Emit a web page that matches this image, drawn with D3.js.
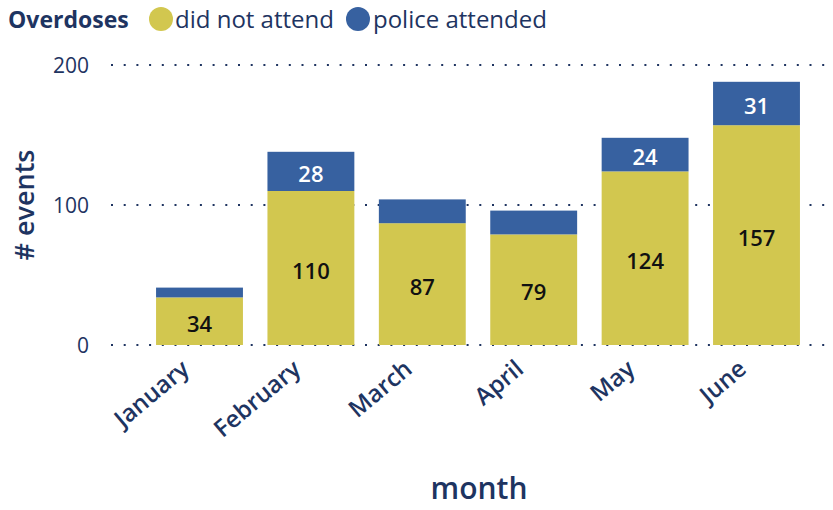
<!DOCTYPE html>
<html><head><meta charset="utf-8">
<script src="https://cdn.jsdelivr.net/npm/d3@7"></script>
<style>
html,body{margin:0;padding:0;background:#fff;}
svg{display:block;font-family:"Open Sans","Noto Sans",sans-serif;}
</style></head>
<body>
<svg id="chart" width="833" height="510"></svg>
<script>
const months = ["January","February","March","April","May","June"];
const didNotAttend = [34,110,87,79,124,157];
const policeAttended = [7,28,17,17,24,31];
const yTicks = [0,100,200];
const seriesNames = ["did not attend","police attended"];
const legendTitle = "Overdoses";
const xTitle = "month";
const yTitle = "# events";

const colors = {"did not attend":"#d2c74f","police attended":"#3761a0"};
const navy = "#1e3461";

const svg = d3.select("#chart");

const x = d3.scaleBand().domain(months).range([143.8,812.2]).paddingInner(0.22).paddingOuter(0.11);
const y = d3.scaleLinear().domain([0,200]).range([345,65]);

// gridlines
const grid = svg.append("g");
grid.selectAll("line").data(yTicks).join("line")
  .attr("x1",111).attr("x2",833)
  .attr("y1",d=>y(d)).attr("y2",d=>y(d))
  .attr("stroke",navy).attr("stroke-width",2)
  .attr("stroke-dasharray","2 10.7");

// y axis labels
const yAxis = d3.axisLeft(y).tickValues(yTicks).tickSize(0).tickPadding(0);
const gy = svg.append("g").attr("transform","translate(89,0)").call(yAxis);
gy.select(".domain").remove();
gy.selectAll("text").attr("fill",navy).style("font-size","21px").style("font-family","'Open Sans',sans-serif").attr("dy","0.35em");

// stacked data
const rows = months.map((m,i)=>({month:m,"did not attend":didNotAttend[i],"police attended":policeAttended[i]}));
const stack = d3.stack().keys(seriesNames)(rows);

const layers = svg.append("g").selectAll("g").data(stack).join("g")
  .attr("fill",d=>colors[d.key]);
layers.selectAll("rect").data(d=>d).join("rect")
  .attr("x",d=>x(d.data.month))
  .attr("width",x.bandwidth())
  .attr("y",d=>y(d[1]))
  .attr("height",d=>y(d[0])-y(d[1]));

// value labels
stack.forEach(layer=>{
  svg.append("g").selectAll("text").data(layer.filter(d=>y(d[0])-y(d[1])>30)).join("text")
    .attr("x",d=>x(d.data.month)+x.bandwidth()/2)
    .attr("y",d=>(y(d[0])+y(d[1]))/2)
    .attr("dy","0.48em")
    .attr("text-anchor","middle")
    .attr("fill",layer.key==="did not attend"?"#111":"#fff")
    .style("font-size","22px").style("font-weight","600")
    .text(d=>d[1]-d[0]);
});

// x axis labels
const xAxis = d3.axisBottom(x).tickSize(0).tickPadding(0);
const gx = svg.append("g").attr("transform","translate(0,365)").call(xAxis);
gx.select(".domain").remove();
gx.selectAll("text")
  .attr("fill",navy).style("font-size","24px").style("font-weight","600")
  .style("font-family","'Open Sans',sans-serif")
  .attr("text-anchor","end").attr("dy","0.35em").attr("y",0)
  .attr("transform","translate(-14,0) rotate(-40)");

// axis titles
svg.append("text").attr("x",479).attr("y",499).attr("text-anchor","middle")
  .attr("fill",navy).style("font-size","30px").style("font-weight","600").text(xTitle);
svg.append("text").attr("transform","translate(34,205) rotate(-90)").attr("text-anchor","middle")
  .attr("fill",navy).style("font-size","27px").style("font-weight","600").text(yTitle);

// legend
const lg = svg.append("g");
lg.append("text").attr("x",8).attr("y",28).attr("fill",navy)
  .style("font-size","23px").style("font-weight","700").text(legendTitle);
const items = [{k:seriesNames[0],cx:161,tx:175},{k:seriesNames[1],cx:358,tx:373}];
items.forEach(it=>{
  lg.append("circle").attr("cx",it.cx).attr("cy",19).attr("r",12).attr("fill",colors[it.k]);
  lg.append("text").attr("x",it.tx).attr("y",28).attr("fill",navy)
    .style("font-size","24px").text(it.k);
});
</script>
</body></html>
